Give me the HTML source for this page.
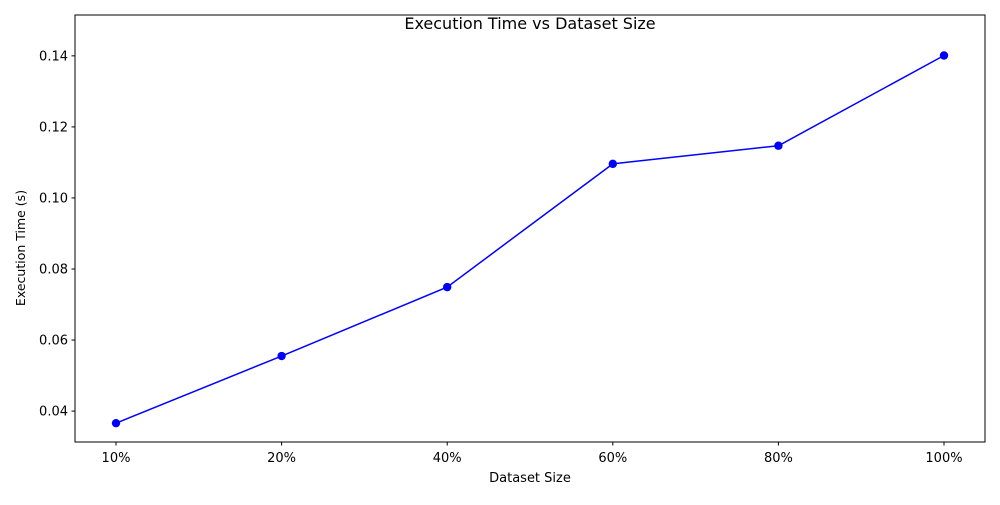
<!DOCTYPE html>
<html><head><meta charset="utf-8"><style>
body{margin:0;background:#fff;}
svg text{font-family:"DejaVu Sans","Liberation Sans",sans-serif;fill:#000;}
</style></head><body>
<svg id="chart" width="1000" height="500" xmlns="http://www.w3.org/2000/svg">
<rect width="1000" height="500" fill="#fff"/>
<text x="530" y="29" font-size="16" text-anchor="middle">Execution Time vs Dataset Size</text>
<text x="530" y="482" font-size="13" text-anchor="middle">Dataset Size</text>
<text transform="translate(25,248) rotate(-90)" font-size="12.5" text-anchor="middle">Execution Time (s)</text>
</svg>
<script>
const categories = ["10%","20%","40%","60%","80%","100%"];
const times = [0.0366,0.0555,0.0749,0.1096,0.1147,0.1401];
const yTicks = [0.04,0.06,0.08,0.10,0.12,0.14];
const yTickLabels = ["0.04","0.06","0.08","0.10","0.12","0.14"];

const L=75,R=985,T=15,B=442;
const yMin=0.0313,yMax=0.1515;
const x0=116,x1=944;
function xPos(i){return x0+(x1-x0)*i/(categories.length-1);}
function yPos(v){return B-(v-yMin)/(yMax-yMin)*(B-T);}
const NS="http://www.w3.org/2000/svg";
const svg=document.getElementById('chart');
function mk(tag,attrs,parent){const e=document.createElementNS(NS,tag);for(const k in attrs)e.setAttribute(k,attrs[k]);(parent||svg).appendChild(e);return e;}

const frame=mk('rect',{x:L,y:T,width:R-L,height:B-T,fill:'none',stroke:'#000','stroke-width':1});



yTicks.forEach((v,i)=>{
  const y=yPos(v);
  const t=mk('line',{x1:L-3.5,x2:L,y1:y,y2:y,stroke:'#000'});
  
  
  const lb=mk('text',{x:L-7,y:y+4.5,'font-size':13,'text-anchor':'end'});
  lb.textContent=yTickLabels[i];
  
  
});
categories.forEach((c,i)=>{
  const x=xPos(i);
  const t=mk('line',{x1:x,x2:x,y1:B,y2:B+3.5,stroke:'#000'});
  
  
  const lb=mk('text',{x:x,y:B+20,'font-size':13,'text-anchor':'middle'});
  lb.textContent=c;
  
  
});
const pts=times.map((v,i)=>xPos(i)+','+yPos(v)).join(' ');
const line=mk('polyline',{points:pts,fill:'none',stroke:'#0000ff','stroke-width':1.5});


times.forEach((v,i)=>{
  const c=mk('circle',{cx:xPos(i),cy:yPos(v),r:4.2,fill:'#0000ff'});
  
  
});
</script>
</body></html>
